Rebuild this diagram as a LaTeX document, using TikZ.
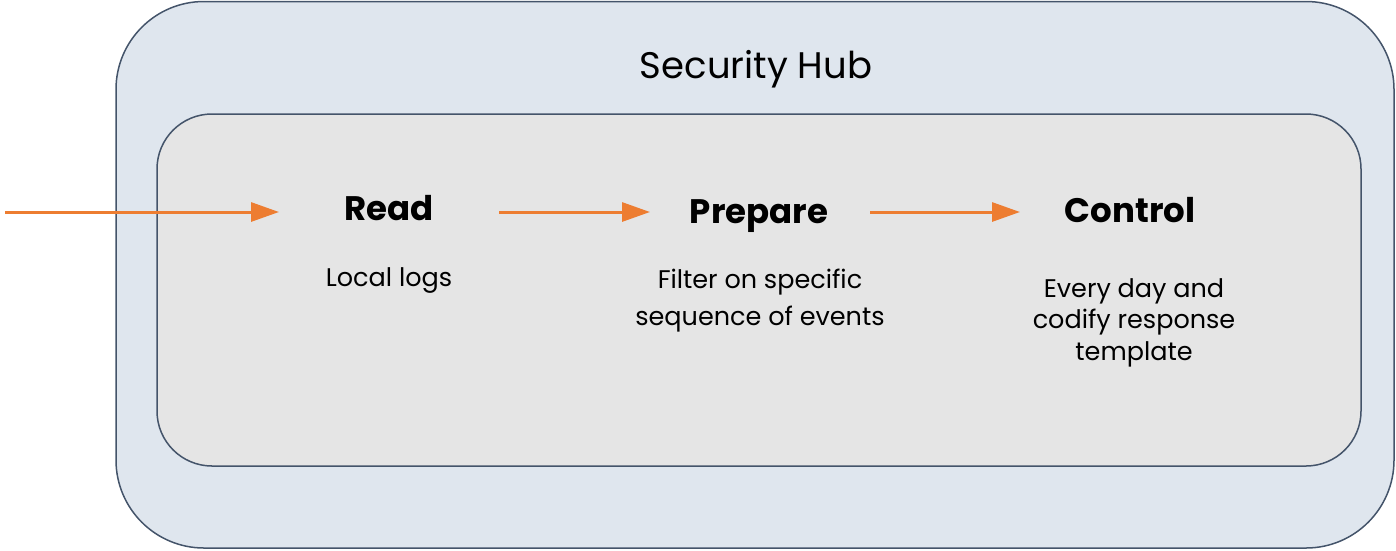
\documentclass[tikz,border=0pt]{standalone}
\usepackage{fontspec}
\setmainfont{Poppins}
\usetikzlibrary{arrows.meta}
\definecolor{outerfill}{HTML}{DFE6EE}
\definecolor{innerfill}{HTML}{E5E5E5}
\definecolor{boxline}{HTML}{44546A}
\definecolor{arrowc}{HTML}{ED7D31}
\tikzset{
  hub/.style={draw=boxline, line width=1.5pt, fill=outerfill, rounded corners=88pt},
  inner/.style={draw=boxline, line width=1.5pt, fill=innerfill, rounded corners=55pt},
  head/.style={font=\fontsize{34}{40}\selectfont\bfseries, anchor=base, inner sep=0pt},
  body/.style={font=\fontsize{25.5}{37}\selectfont, align=center, anchor=base, inner sep=0pt},
  flow/.style={draw=arrowc, line width=3pt, -{Triangle[length=28pt,width=19pt]}},
}
\begin{document}
\begin{tikzpicture}[x=1pt,y=-1pt]
\useasboundingbox (0,0) rectangle (1396,550);
\draw[hub] (116,1.5) rectangle (1394,548);
\draw[inner] (157,114) rectangle (1361,466);
\node[font=\fontsize{37}{42}\selectfont, anchor=base, inner sep=0pt] (title) at (756,78) {Security Hub};
\node[head] (read) at (389,220) {Read};
\node[head] (prep) at (759,223) {Prepare};
\node[head] (ctrl) at (1130,222) {Control};
\node[body] (readb) at (389,286) {Local logs};
\node[body] (prepb) at (760,325) {Filter on specific\\sequence of events};
\node[body, font=\fontsize{25.5}{31.5}\selectfont] (ctrlb) at (1134,360) {Every day and\\codify response\\template};
\coordinate (start) at (5,212);
\draw[flow] (start) -- ([xshift=-110pt]read.center |- start);
\draw[flow] ([xshift=110pt]read.center |- start) -- ([xshift=-109pt]prep.center |- start);
\draw[flow] ([xshift=111pt]prep.center |- start) -- ([xshift=-110pt]ctrl.center |- start);
\end{tikzpicture}
\end{document}
